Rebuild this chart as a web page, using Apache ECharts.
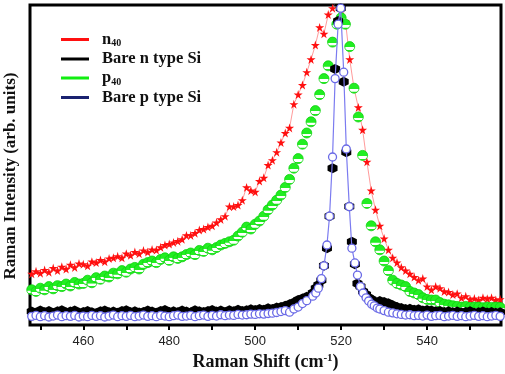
<!DOCTYPE html>
<html><head><meta charset="utf-8">
<script src="https://cdn.jsdelivr.net/npm/echarts@6/dist/echarts.min.js"></script>
<style>html,body{margin:0;padding:0;background:#fff}#c{width:505px;height:374px}</style>
</head><body><div id="c"></div>
<script>
// Raman shift (cm-1) sampling for the n40 / p40 spectra
const shiftA = [448,449,450,451,452,453,454,455,456,457,458,459,460,461,462,463,464,465,466,467,468,469,470,471,472,473,474,475,476,477,478,479,480,481,482,483,484,485,486,487,488,489,490,491,492,493,494,495,496,497,498,499,500,501,502,503,504,505,506,507,508,509,510,511,512,513,514,515,516,517,518,519,520,521,522,523,524,525,526,527,528,529,530,531,532,533,534,535,536,537,538,539,540,541,542,543,544,545,546,547,548,549,550,551,552,553,554,555,556,557];
const n40 = [16,16.8,16.2,17.2,16.5,17.8,17,18.2,17.5,18.8,
  18,19.2,19,18.5,19.8,19.5,20.3,19.8,20.8,21,
  21.5,21,22.3,21.8,22.8,22.3,23.3,22.8,23.6,23.4,
  24.3,25,25.3,25.8,26.2,26.8,28,28,28.7,29.7,
  30,30.6,31,32,33,34,37,37,37.5,39,
  43,42,41.6,45,46,50,51.5,54,57,60,
  61.6,69,72,75,79,83,87.5,93,91,97,
  99,102,101,95,83,74,68,61,51,42,
  36,31,27,23.5,21,19.5,18,17,16,15,
  14,14.5,12,11,12,11.5,10.5,10.3,9.5,9.8,
  8.5,9,8,8.3,7.8,8.5,8.2,8.5,7.8,8];
const p40 = [11,10.5,11.5,11,12,11.3,12.3,12,12.8,12.2,
  13.3,12.8,13,14,13.2,14.8,14.3,15.3,15,16.2,
  16,17,16.5,17.5,18,17.5,19,19.5,20,19.5,
  20.5,21,20.2,21.3,20.8,21.3,22,22.5,22,23.3,
  23,24,23.5,24.2,25,25.5,26,26.5,27.8,29,
  30.6,30,31.5,32.5,34,36,37.5,39,40.6,43,
  45.5,49,52,56.5,60,63.5,67,72,77,81,
  88.4,94,96,94,87,74,65,53,38,31,
  26,23.5,20,17,14,13,12.5,12,10.5,10,
  9.5,8.5,8,7.8,7.8,7,6.5,6.3,6,5.8,
  5.6,5.8,5.5,5.6,5.6,5.4,5.6,5.5,5.6,5.5];
// Raman shift sampling for the bare Si spectra (denser around the 520 peak)
const shiftSi = [448,449,450,451,452,453,454,455,456,457,458,459,460,461,462,463,464,465,466,467,468,469,470,471,472,473,474,475,476,477,478,479,480,481,482,483,484,485,486,487,488,489,490,491,492,493,494,495,496,497,498,499,500,501,502,503,504,505,506,507,508,509,510,511,512,
  513.4,514.1,514.7,515.4,516.0,516.7,517.3,518.0,518.6,519.3,519.9,520.6,521.2,521.9,522.5,523.2,523.8,524.5,525.1,525.8,526.4,527.1,527.7,528.4,
  529,530,531,532,533,534,535,536,537,538,539,540,541,542,543,544,545,546,547,548,549,550,551,552,553,554,555,556,557];
const bareN = [4.2,3.8,4.5,4.0,4.4,3.7,4.3,4.6,3.9,4.2,
  4.5,3.8,4.1,4.4,4.0,3.7,4.3,4.5,4.0,4.2,
  3.8,4.4,4.6,4.0,4.3,3.9,4.1,4.5,4.2,3.8,
  4.4,4.7,4.1,4.3,4.0,4.5,4.2,3.9,4.6,4.3,
  4.1,4.4,4.7,4.2,4.5,4.0,4.6,4.3,4.8,4.4,
  4.6,4.9,
  4.7,5.0,4.8,5.2,5.0,5.5,5.6,6.0,6.5,7.0,7.8,8.3,8.8,
  10,11.5,12.5,14,18.5,24,34,49,80,95,99,76,54,37,26,19,13,12,10.5,9.5,8.5,8,7.2,6.5,
  7.5,7.2,6.8,6.2,5.6,5.3,5.0,5.1,4.8,4.9,
  4.5,4.7,4.5,4.3,4.4,4.1,4.3,4.0,4.2,3.9,
  4.1,4.3,3.8,4.0,4.2,3.9,4.1,3.8,4.0];
const bareP = [2.7,3.0,2.6,2.9,2.5,2.8,3.1,2.6,2.9,2.7,
  3.0,2.5,2.8,2.6,3.0,2.7,2.9,2.5,2.8,3.1,
  2.6,2.9,2.7,3.0,2.6,2.8,3.1,2.7,2.9,2.6,
  3.0,2.8,2.6,2.9,3.1,2.7,2.8,3.0,2.6,2.9,
  3.1,2.7,3.0,2.8,3.2,2.9,3.1,3.0,3.3,3.1,
  3.2,3.4,
  3.3,3.5,3.4,3.6,3.7,3.9,4.2,4.5,4.0,5.0,5.6,6.7,7.6,
  9,10,11.5,14.5,18.5,25,34,52.5,77,94,99,79,55,37,24,19.4,15.6,12,10,8.5,7.5,6.5,6,5.3,
  5.0,4.5,4.0,3.8,3.5,3.3,3.1,3.2,2.9,3.0,
  2.8,3.1,2.7,2.9,3.0,2.6,2.8,3.0,2.7,2.9,
  2.6,2.8,3.0,2.7,2.9,2.6,2.8,3.0,2.7];
const xTicks = [450,460,470,480,490,500,510,520,530,540,550];
const xLabels = [460,480,500,520,540];
const seriesNames = ['n40','Bare n type Si','p40','Bare p type Si'];

function pairs(xs, ys){ return xs.map((x,i)=>[x, ys[i]]); }
const star = 'path://M50,0 L61,35 L98,35 L68,57 L79,91 L50,70 L21,91 L32,57 L2,35 L39,35 Z';
const hex = 'path://M50,0 L93,25 L93,75 L50,100 L7,75 L7,25 Z';
const greenFill = new echarts.graphic.LinearGradient(0,0,0,1,[
  {offset:0,color:'#22ee22'},{offset:0.56,color:'#22ee22'},{offset:0.58,color:'#ffffff'},
  {offset:0.8,color:'#ffffff'},{offset:0.82,color:'#22ee22'},{offset:1,color:'#22ee22'}]);
const serif = 'Liberation Serif';

const chart = echarts.init(document.getElementById('c'));
chart.setOption({
  animation:false,
  backgroundColor:'#fff',
  grid:{left:30,right:4,top:5,bottom:49,outerBoundsMode:'none',containLabel:false,
    show:true,borderColor:'#000',borderWidth:3,backgroundColor:'transparent'},
  legend:{
    orient:'vertical', left:56, top:26, itemGap:2, icon:'rect', itemWidth:28, itemHeight:3,
    data:[
      {name:seriesNames[0], itemStyle:{color:'#ff1010',borderWidth:0}},
      {name:seriesNames[1], itemStyle:{color:'#000000',borderWidth:0}},
      {name:seriesNames[2], itemStyle:{color:'#11ee11',borderWidth:0}},
      {name:seriesNames[3], itemStyle:{color:'#1a2270',borderWidth:0}}],
    formatter: n => n==='n40' ? '{b|n}{s|40}' : (n==='p40' ? '{b|p}{s|40}' : '{b|'+n+'}'),
    textStyle:{padding:[0,0,0,8], rich:{
      b:{fontFamily:serif,fontWeight:'bold',fontSize:16.5,color:'#111'},
      s:{fontFamily:serif,fontWeight:'bold',fontSize:10,color:'#111',padding:[8,0,0,0]}}}
  },
  graphic:[{type:'text', x:11, y:176, rotation:Math.PI/2, silent:true,
    style:{text:'Raman Intensity (arb. units)', align:'center', verticalAlign:'middle',
      font:'bold 17px "Liberation Serif"', fill:'#111'}}],
  xAxis:{
    type:'value', min:447.6, max:557.2,
    axisLine:{show:false},
    axisTick:{show:true, customValues:xTicks, length:5, lineStyle:{color:'#000',width:2}},
    axisLabel:{customValues:xLabels, fontFamily:'Liberation Sans', fontSize:13, color:'#222', margin:10},
    splitLine:{show:false},
    name:'{t|Raman Shift (cm}{u|-1}{t|)}', nameLocation:'middle', nameGap:28,
    nameTextStyle:{rich:{
      t:{fontFamily:serif,fontWeight:'bold',fontSize:18,color:'#111'},
      u:{fontFamily:serif,fontWeight:'bold',fontSize:11,color:'#111',padding:[0,0,8,0]}}}
  },
  yAxis:{
    type:'value', min:0, max:100,
    axisLine:{show:false}, axisTick:{show:false}, axisLabel:{show:false}, splitLine:{show:false}
  },
  series:[
    {name:seriesNames[0], type:'line', data:pairs(shiftA,n40), symbol:star, symbolSize:9, showAllSymbol:true,
      itemStyle:{color:'#ff1010'}, lineStyle:{color:'#ff8080',width:0.8}, z:2},
    {name:seriesNames[2], type:'line', data:pairs(shiftA,p40), symbol:'circle', symbolSize:10, showAllSymbol:true,
      itemStyle:{color:greenFill,borderColor:'#10d010',borderWidth:0.8}, lineStyle:{width:0,opacity:0}, z:3},
    {name:seriesNames[1], type:'line', data:pairs(shiftSi,bareN), symbol:hex, symbolSize:10, showAllSymbol:true,
      itemStyle:{color:'#000'}, lineStyle:{width:0,opacity:0}, z:4},
    {name:seriesNames[3], type:'line', data:pairs(shiftSi,bareP), symbol:'circle', symbolSize:8, showAllSymbol:true,
      itemStyle:{color:'#ffffff',borderColor:'#6a6ae6',borderWidth:1.3}, lineStyle:{color:'#7b7bf0',width:1.2}, z:5}
  ]
});
</script></body></html>
